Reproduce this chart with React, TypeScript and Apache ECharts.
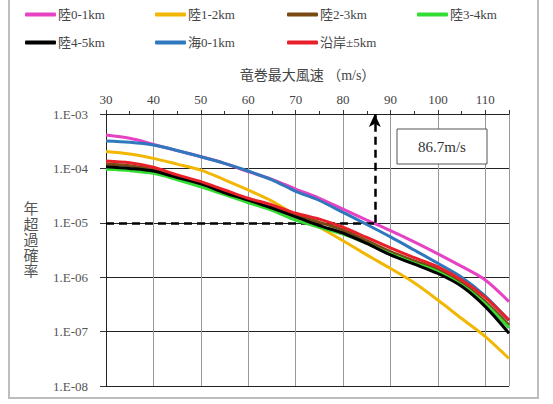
import React, { useEffect, useRef } from "react";
import * as echarts from "echarts";

const SPEEDS = [30, 35, 40, 45, 50, 55, 60, 65, 70, 75, 80, 85, 90, 95, 100, 105, 110, 115];

const LAND_0_1 = [4.11e-4, 3.57e-4, 2.77e-4, 2.12e-4, 1.64e-4, 1.24e-4, 8.7e-5, 6.3e-5, 4.17e-5, 2.82e-5, 1.78e-5, 1.12e-5, 7.2e-6, 4.47e-6, 2.69e-6, 1.58e-6, 8.9e-7, 3.55e-7];
const LAND_1_2 = [2.04e-4, 1.84e-4, 1.53e-4, 1.2e-4, 9.3e-5, 6.17e-5, 4.01e-5, 2.51e-5, 1.38e-5, 8.3e-6, 4.68e-6, 2.57e-6, 1.45e-6, 7.9e-7, 3.8e-7, 1.74e-7, 8.1e-8, 3.2e-8];
const LAND_2_3 = [1.2e-4, 1.12e-4, 9.5e-5, 6.9e-5, 5.4e-5, 3.8e-5, 2.69e-5, 1.95e-5, 1.38e-5, 1.02e-5, 7.4e-6, 4.68e-6, 2.95e-6, 2.0e-6, 1.4e-6, 7.9e-7, 3.55e-7, 1.32e-7];
const LAND_3_4 = [9.6e-5, 9.1e-5, 8.1e-5, 6.2e-5, 4.6e-5, 3.3e-5, 2.34e-5, 1.7e-5, 1.12e-5, 8.3e-6, 6.2e-6, 4.17e-6, 2.69e-6, 1.82e-6, 1.26e-6, 7.2e-7, 3.24e-7, 1.17e-7];
const LAND_4_5 = [1.07e-4, 1.0e-4, 8.95e-5, 6.8e-5, 5.2e-5, 3.57e-5, 2.63e-5, 1.86e-5, 1.29e-5, 8.9e-6, 6.5e-6, 4.17e-6, 2.57e-6, 1.74e-6, 1.17e-6, 6.8e-7, 2.88e-7, 9.3e-8];
const SEA_0_1 = [3.19e-4, 3.02e-4, 2.69e-4, 2.14e-4, 1.64e-4, 1.24e-4, 8.95e-5, 6.17e-5, 3.8e-5, 2.57e-5, 1.55e-5, 9.3e-6, 5.5e-6, 3.16e-6, 1.8e-6, 1.0e-6, 4.5e-7, 1.6e-7];
const COAST_5 = [1.37e-4, 1.27e-4, 1.05e-4, 7.6e-5, 5.7e-5, 4.01e-5, 2.82e-5, 2.14e-5, 1.5e-5, 1.17e-5, 8.3e-6, 5.37e-6, 3.47e-6, 2.29e-6, 1.55e-6, 8.9e-7, 4.27e-7, 1.62e-7];

const SERIES_NAMES = ["陸0-1km", "陸1-2km", "陸2-3km", "陸3-4km", "陸4-5km", "海0-1km", "沿岸±5km"];
const SERIES_VALUES = [LAND_0_1, LAND_1_2, LAND_2_3, LAND_3_4, LAND_4_5, SEA_0_1, COAST_5];
const SERIES_COLORS = ["#e642c4", "#f2b705", "#7a4a14", "#33dd33", "#000000", "#2f78bd", "#e8202a"];
// legend columns (two rows): each column lists names top-to-bottom
const LEGEND_COLUMNS = [
  ["陸0-1km", "陸4-5km"],
  ["陸1-2km", "海0-1km"],
  ["陸2-3km", "沿岸±5km"],
  ["陸3-4km"],
];

const Y_TICK_LABELS = ["1.E-08", "1.E-07", "1.E-06", "1.E-05", "1.E-04", "1.E-03"];
const X_TICK_LABELS = ["30", "40", "50", "60", "70", "80", "90", "100", "110"];

const THRESHOLD_PROB = 1e-5;
const THRESHOLD_SPEED = 86.7;

const FONT = "'Liberation Serif', 'DejaVu Serif', 'Noto Sans CJK JP', serif";

export default function App() {
  const ref = useRef<HTMLDivElement>(null);

  useEffect(() => {
    if (!ref.current) return;
    const chart = echarts.init(ref.current, undefined, { renderer: "svg" });

    const series: any[] = SERIES_NAMES.map((name, i) => ({
      name,
      type: "line",
      data: SPEEDS.map((s, j) => [s, SERIES_VALUES[i][j]]),
      smooth: 0.3,
      showSymbol: false,
      symbol: "none",
      color: SERIES_COLORS[i],
      lineStyle: { width: 3, color: SERIES_COLORS[i] },
      z: 3 + i,
    }));

    series.push({
      name: "threshold",
      type: "line",
      data: [],
      silent: true,
      markLine: {
        silent: true,
        animation: false,
        symbol: ["none", "none"],
        label: { show: false },
        lineStyle: { color: "#000", width: 2.5, type: [8, 5] },
        data: [
          [
            { coord: [SPEEDS[0], THRESHOLD_PROB] },
            { coord: [THRESHOLD_SPEED, THRESHOLD_PROB] },
          ],
          [
            { coord: [THRESHOLD_SPEED, THRESHOLD_PROB], symbol: "none" },
            { coord: [THRESHOLD_SPEED, 1e-3], symbol: "arrow", symbolSize: [9, 13] },
          ],
        ],
      },
      z: 20,
    });

    const columnLefts = [25, 155, 287, 417];
    const legends = LEGEND_COLUMNS.map((names, c) => ({
      data: names,
      left: columnLefts[c],
      top: 8,
      orient: "vertical",
      padding: 0,
      itemWidth: 31,
      itemHeight: 4,
      itemGap: 15,
      icon: "roundRect",
      textStyle: { fontFamily: FONT, fontSize: 13, color: "#444", padding: [0, 0, 0, -3] },
    }));

    chart.setOption({
      animation: false,
      backgroundColor: "#fff",
      textStyle: { fontFamily: FONT },
      grid: { left: 106, right: 44, top: 114, bottom: 18, containLabel: false },
      legend: legends,
      xAxis: {
        type: "value",
        position: "top",
        min: 30,
        max: 115,
        interval: 10,
        name: "竜巻最大風速 （m/s）",
        nameLocation: "middle",
        nameGap: 32,
        nameTextStyle: { fontFamily: FONT, fontSize: 14, color: "#444" },
        axisLine: { show: true, lineStyle: { color: "#222", width: 1 } },
        axisTick: { show: true, length: 4, inside: false, lineStyle: { color: "#333" } },
        minorTick: { show: true, splitNumber: 2, length: 3, lineStyle: { color: "#333" } },
        axisLabel: {
          fontFamily: FONT,
          fontSize: 13,
          color: "#444",
          margin: 8,
          showMaxLabel: false,
          formatter: (v: number) => {
            const idx = X_TICK_LABELS.indexOf(String(v));
            return idx >= 0 ? X_TICK_LABELS[idx] : "";
          },
        },
        splitLine: { show: true, lineStyle: { color: "#999", width: 1 } },
      },
      yAxis: {
        type: "log",
        logBase: 10,
        min: 1e-8,
        max: 1e-3,
        axisLine: { show: true, lineStyle: { color: "#222", width: 1 } },
        axisTick: { show: true, length: 6, lineStyle: { color: "#333" } },
        axisLabel: {
          fontFamily: FONT,
          fontSize: 13,
          color: "#555",
          margin: 18,
          formatter: (v: number) => {
            const e = Math.round(Math.log10(v));
            return Y_TICK_LABELS[e + 8] ?? "";
          },
        },
        splitLine: { show: true, lineStyle: { color: "#222", width: 1 } },
      },
      graphic: [
        {
          type: "rect",
          silent: true,
          shape: { x: 9, y: -2, width: 529, height: 400 },
          style: { fill: "none", stroke: "#bdbdbd", lineWidth: 2 },
          z: -1,
        },
        {
          type: "text",
          x: 31,
          y: 240,
          style: {
            text: "年\n超\n過\n確\n率",
            fontFamily: FONT,
            fontSize: 15,
            lineHeight: 15.5,
            fill: "#555",
            textAlign: "center",
            textVerticalAlign: "middle",
          },
        },
        {
          type: "rect",
          shape: { x: 397, y: 129, width: 90, height: 35 },
          style: { fill: "#fff", stroke: "#555", lineWidth: 1 },
          z: 30,
        },
        {
          type: "text",
          x: 442,
          y: 147,
          style: {
            text: `${THRESHOLD_SPEED}m/s`,
            fontFamily: FONT,
            fontSize: 15,
            fill: "#333",
            textAlign: "center",
            textVerticalAlign: "middle",
          },
          z: 31,
        },
      ],
      series,
    });

    return () => chart.dispose();
  }, []);

  return (
    <div
      ref={ref}
      style={{ position: "fixed", left: 0, top: 0, width: 553, height: 404 }}
    />
  );
}
